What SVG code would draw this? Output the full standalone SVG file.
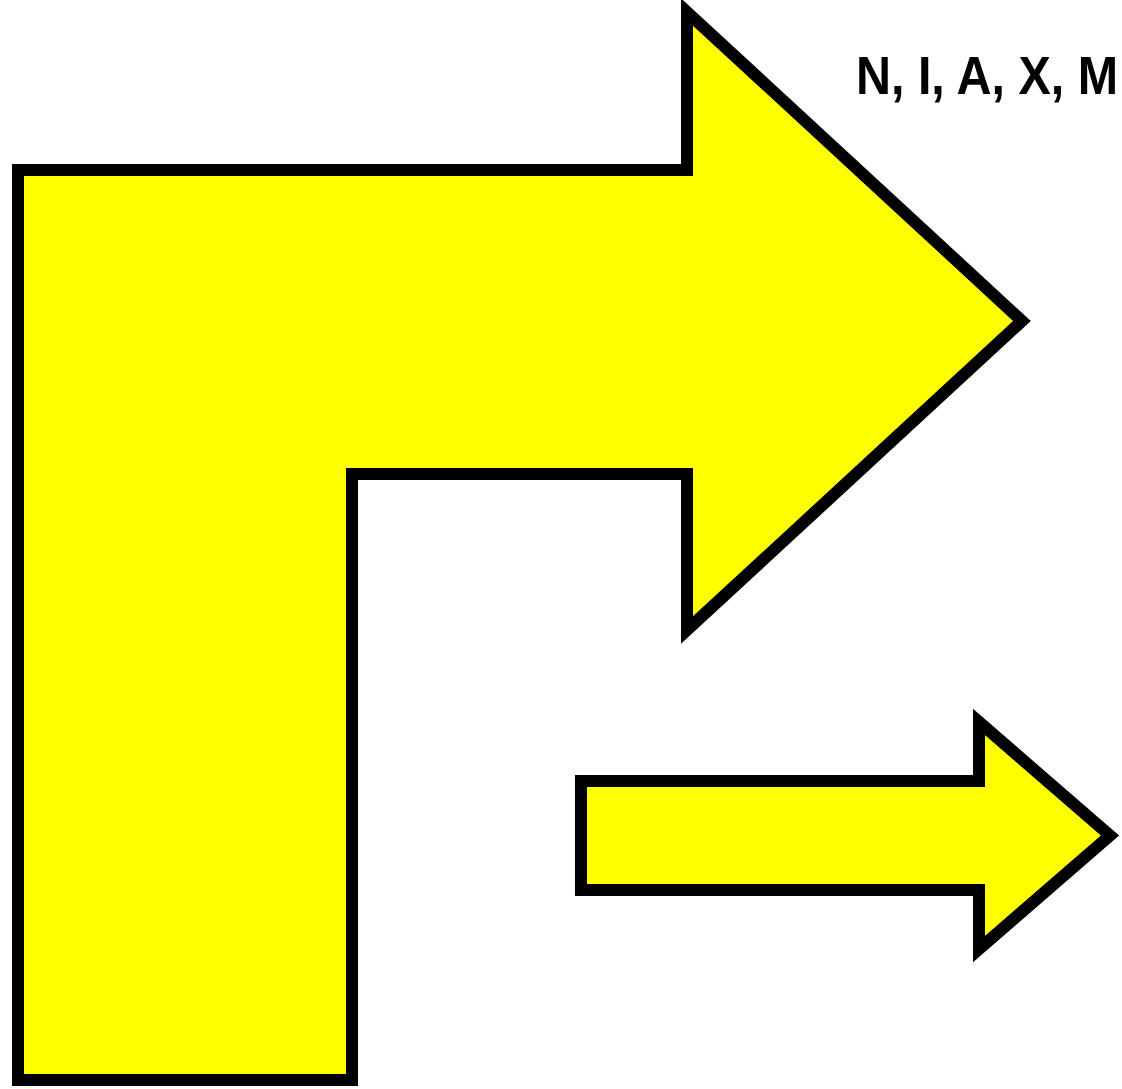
<svg xmlns="http://www.w3.org/2000/svg" width="1122" height="1089" viewBox="0 0 1122 1089">
<style>
.arrow{fill:#ffff00;stroke:#000;stroke-width:12;stroke-linejoin:miter;stroke-miterlimit:10}
.lbl{font-family:"Liberation Sans",Arial,sans-serif;font-weight:bold;font-size:54px;fill:#000}
</style>
<rect width="1122" height="1089" fill="#fff"/>
<g id="bent-arrow">
<path class="arrow" d="M18,1080 L18,170 L687,170 L687,12 L1022,321 L687,630 L687,474 L352,474 L352,1080 Z"/>
</g>
<g id="small-arrow">
<path class="arrow" d="M581,781 L979,781 L979,722 L1110,835.5 L979,949 L979,890 L581,890 Z"/>
</g>
<g id="label">
<text class="lbl" x="856" y="94" textLength="262" lengthAdjust="spacingAndGlyphs">N, I, A, X, M</text>
</g>
<g id="connectors"></g>
</svg>
